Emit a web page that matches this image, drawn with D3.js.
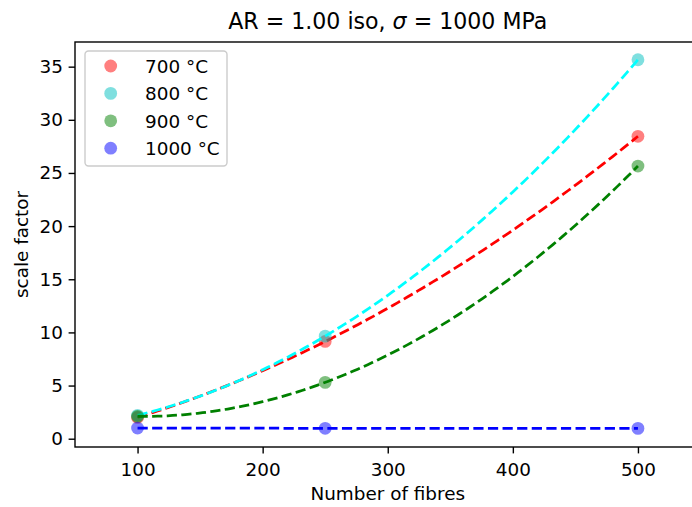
<!DOCTYPE html>
<html>
<head>
<meta charset="utf-8">
<script src="https://cdn.jsdelivr.net/npm/d3@7/dist/d3.min.js"></script>
<style>
  html, body { margin: 0; padding: 0; background: #fff; }
  svg { display: block; font-family: "DejaVu Sans", sans-serif; }
</style>
</head>
<body>
<svg id="chart" width="692" height="507"></svg>
<script>
// ---- data ----
const fibres = [100, 250, 500];
const temps = ["700 °C", "800 °C", "900 °C", "1000 °C"];
const scale700 = [2.0, 9.15, 28.45];
const scale800 = [2.2, 9.65, 35.65];
const scale900 = [2.1, 5.3, 25.65];
const scale1000 = [1.0, 0.98, 0.97];
const xTicks = [100, 200, 300, 400, 500];
const yTicks = [0, 5, 10, 15, 20, 25, 30, 35];
const markerColors = ["#ff0000", "#00bfbf", "#008000", "#0000ff"];
const lineColors = ["#ff0000", "#00ffff", "#008000", "#0000ff"];
const seriesValues = [scale700, scale800, scale900, scale1000];

// ---- layout ----
const svg = d3.select("#chart");
const L = 75, R = 700.5, T = 42, B = 447;
const FS = 18.4;
const x = d3.scaleLinear().domain([50, 550]).range([L, R]);
const y = d3.scaleLinear().domain([-0.78, 37.32]).range([B, T]);

// quadratic least-squares fit (as in the original fit lines)
function polyfit2(xs, ys) {
  const S = [0, 0, 0, 0, 0], Ty = [0, 0, 0];
  xs.forEach((xv, i) => {
    for (let k = 0; k < 5; k++) S[k] += Math.pow(xv, k);
    for (let k = 0; k < 3; k++) Ty[k] += ys[i] * Math.pow(xv, k);
  });
  const M = [[S[0], S[1], S[2], Ty[0]], [S[1], S[2], S[3], Ty[1]], [S[2], S[3], S[4], Ty[2]]];
  for (let i = 0; i < 3; i++) {
    let p = i;
    for (let r = i + 1; r < 3; r++) if (Math.abs(M[r][i]) > Math.abs(M[p][i])) p = r;
    [M[i], M[p]] = [M[p], M[i]];
    for (let r = 0; r < 3; r++) {
      if (r === i) continue;
      const f = M[r][i] / M[i][i];
      for (let c = i; c < 4; c++) M[r][c] -= f * M[i][c];
    }
  }
  const coef = M.map((row, i) => row[3] / row[i]);
  return xv => coef[0] + coef[1] * xv + coef[2] * xv * xv;
}

const plot = svg.append("g");
const line = d3.line().x(d => x(d[0])).y(d => y(d[1]));
const xs = d3.range(fibres[0], fibres[fibres.length - 1] + 0.001, 4);

seriesValues.forEach((vals, si) => {
  plot.selectAll(null).data(fibres.map((f, i) => [f, vals[i]])).enter()
    .append("circle")
    .attr("cx", d => x(d[0])).attr("cy", d => y(d[1])).attr("r", 6.4)
    .attr("fill", markerColors[si]).attr("fill-opacity", 0.5);
  const fit = polyfit2(fibres, vals);
  plot.append("path")
    .attr("d", line(xs.map(v => [v, fit(v)])))
    .attr("fill", "none").attr("stroke", lineColors[si])
    .attr("stroke-width", 2.75).attr("stroke-dasharray", "10.2,4.4");
});

// ---- axes ----
const xAxis = svg.append("g").attr("transform", `translate(0,${B})`)
  .call(d3.axisBottom(x).tickValues(xTicks).tickSize(6.4).tickPadding(9.5).tickSizeOuter(0));
const yAxis = svg.append("g").attr("transform", `translate(${L},0)`)
  .call(d3.axisLeft(y).tickValues(yTicks).tickSize(6.4).tickPadding(5.6).tickSizeOuter(0));
[xAxis, yAxis].forEach(a => {
  a.select(".domain").remove();
  a.selectAll("line").attr("stroke", "#000").attr("stroke-width", 1.4);
  a.selectAll("text").attr("font-size", FS).attr("fill", "#000")
    .attr("font-family", "DejaVu Sans");
});
// spines
svg.append("rect").attr("x", L).attr("y", T).attr("width", R - L).attr("height", B - T)
  .attr("fill", "none").attr("stroke", "#000").attr("stroke-width", 1.4);

// ---- labels ----
svg.append("text").attr("x", (L + R) / 2).attr("y", 28.5).attr("text-anchor", "middle")
  .attr("font-size", 22.1).attr("fill", "#000")
  .html('AR = 1.00 iso, <tspan font-style="italic">σ</tspan> = 1000 MPa');
svg.append("text").attr("x", (L + R) / 2).attr("y", 500).attr("text-anchor", "middle")
  .attr("font-size", FS).attr("fill", "#000").text("Number of fibres");
svg.append("text").attr("transform", `translate(28.3,${(T + B) / 2}) rotate(-90)`)
  .attr("text-anchor", "middle").attr("font-size", FS).attr("fill", "#000").text("scale factor");

// ---- legend ----
const lg = svg.append("g");
lg.append("rect").attr("x", 85).attr("y", 51).attr("width", 142).attr("height", 115)
  .attr("rx", 3.5).attr("fill", "#fff").attr("fill-opacity", 0.8)
  .attr("stroke", "#cccccc").attr("stroke-width", 1.4);
temps.forEach((t, i) => {
  const cy = 66 + i * 27.4;
  lg.append("circle").attr("cx", 110.7).attr("cy", cy).attr("r", 6.4)
    .attr("fill", markerColors[i]).attr("fill-opacity", 0.5);
  lg.append("text").attr("x", 145).attr("y", cy + 6.8).attr("font-size", FS)
    .attr("fill", "#000").text(t);
});
</script>
</body>
</html>
